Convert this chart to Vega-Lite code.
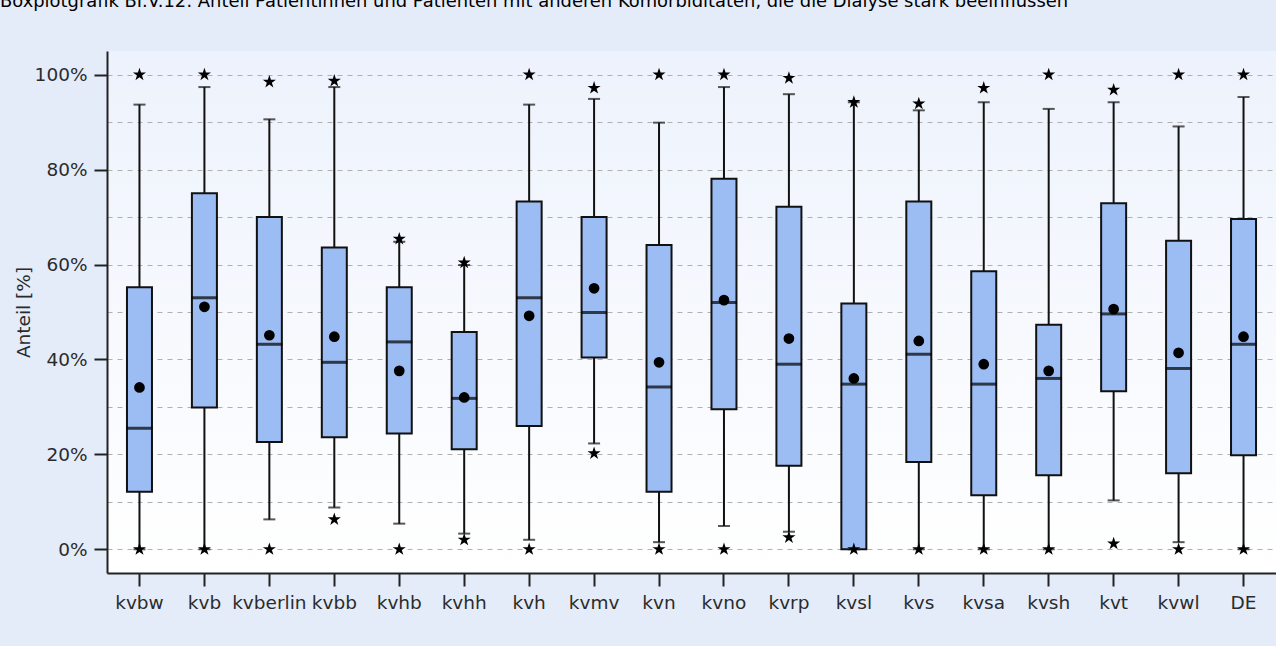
{
  "$schema": "https://vega.github.io/schema/vega-lite/v6.json",
  "autosize": {"type": "none"},
  "width": 1169,
  "height": 522,
  "padding": {"left": 107, "top": 51, "right": 0, "bottom": 73},
  "background": "#e4ecfa",
  "title": {
    "text": "Boxplotgrafik BI.V.12: Anteil Patientinnen und Patienten mit anderen Komorbiditäten, die die Dialyse stark beeinflussen",
    "anchor": "start",
    "frame": "group",
    "dx": -107,
    "offset": 26,
    "baseline": "alphabetic",
    "font": "DejaVu Sans",
    "fontSize": 17.9,
    "fontWeight": "normal",
    "color": "#000000"
  },
  "data": {
    "values": [
      {"kv": "kvbw", "lo": 0, "q1": 12.1, "med": 25.5, "q3": 55.2, "hi": 93.7, "mean": 34.1, "min": 0, "max": 100},
      {"kv": "kvb", "lo": 0, "q1": 29.9, "med": 53.0, "q3": 75.0, "hi": 97.4, "mean": 51.1, "min": 0, "max": 100},
      {"kv": "kvberlin", "lo": 6.3, "q1": 22.6, "med": 43.2, "q3": 70.0, "hi": 90.6, "mean": 45.1, "min": 0, "max": 98.5},
      {"kv": "kvbb", "lo": 8.8, "q1": 23.6, "med": 39.4, "q3": 63.6, "hi": 97.4, "mean": 44.8, "min": 6.3, "max": 98.7},
      {"kv": "kvhb", "lo": 5.4, "q1": 24.4, "med": 43.7, "q3": 55.2, "hi": 64.8, "mean": 37.6, "min": 0, "max": 65.4},
      {"kv": "kvhh", "lo": 3.3, "q1": 21.1, "med": 31.8, "q3": 45.8, "hi": 59.9, "mean": 32.0, "min": 2.0, "max": 60.4},
      {"kv": "kvh", "lo": 2.0, "q1": 26.0, "med": 53.0, "q3": 73.3, "hi": 93.7, "mean": 49.2, "min": 0, "max": 100},
      {"kv": "kvmv", "lo": 22.3, "q1": 40.4, "med": 49.9, "q3": 70.0, "hi": 94.9, "mean": 55.0, "min": 20.2, "max": 97.2},
      {"kv": "kvn", "lo": 1.5, "q1": 12.1, "med": 34.2, "q3": 64.1, "hi": 89.9, "mean": 39.4, "min": 0, "max": 100},
      {"kv": "kvno", "lo": 4.9, "q1": 29.5, "med": 52.0, "q3": 78.1, "hi": 97.4, "mean": 52.5, "min": 0, "max": 100},
      {"kv": "kvrp", "lo": 3.7, "q1": 17.6, "med": 39.0, "q3": 72.2, "hi": 95.9, "mean": 44.4, "min": 2.5, "max": 99.3},
      {"kv": "kvsl", "lo": 0, "q1": 0, "med": 34.8, "q3": 51.8, "hi": 94.2, "mean": 36.0, "min": 0, "max": 94.2},
      {"kv": "kvs", "lo": 0, "q1": 18.4, "med": 41.1, "q3": 73.3, "hi": 92.5, "mean": 43.9, "min": 0, "max": 93.9},
      {"kv": "kvsa", "lo": 0, "q1": 11.4, "med": 34.8, "q3": 58.6, "hi": 94.2, "mean": 39.0, "min": 0, "max": 97.2},
      {"kv": "kvsh", "lo": 0, "q1": 15.6, "med": 36.0, "q3": 47.3, "hi": 92.8, "mean": 37.6, "min": 0, "max": 100},
      {"kv": "kvt", "lo": 10.3, "q1": 33.3, "med": 49.6, "q3": 72.9, "hi": 94.2, "mean": 50.6, "min": 1.2, "max": 96.8},
      {"kv": "kvwl", "lo": 1.5, "q1": 16.0, "med": 38.1, "q3": 65.0, "hi": 89.1, "mean": 41.4, "min": 0, "max": 100},
      {"kv": "DE", "lo": 0, "q1": 19.8, "med": 43.2, "q3": 69.6, "hi": 95.3, "mean": 44.8, "min": 0, "max": 100}
    ]
  },
  "encoding": {
    "x": {
      "field": "kv",
      "type": "nominal",
      "sort": null,
      "title": null,
      "scale": {"paddingInner": 0, "paddingOuter": 0},
      "axis": {
        "labelAngle": 0,
        "grid": false,
        "bandPosition": 0.5,
        "tickSize": 13,
        "tickWidth": 2,
        "labelPadding": 7
      }
    }
  },
  "layer": [
    {
      "mark": {"type": "rule", "color": "#111111", "strokeWidth": 2},
      "encoding": {
        "y": {
          "field": "lo",
          "type": "quantitative",
          "title": "Anteil [%]",
          "scale": {"domain": [-5, 105], "nice": false, "zero": false},
          "axis": {
            "values": [0, 5, 10, 15, 20, 25, 30, 35, 40, 45, 50, 55, 60, 65, 70, 75, 80, 85, 90, 95, 100, 105],
            "labelExpr": "datum.value % 20 == 0 && datum.value <= 100 ? datum.value + '%' : ''",
            "tickOpacity": {"condition": {"test": "datum.value % 20 == 0 && datum.value <= 100", "value": 1}, "value": 0},
            "tickSize": 13,
            "tickWidth": 2,
            "labelPadding": 7,
            "titlePadding": 1,
            "grid": true
          }
        },
        "y2": {"field": "hi"}
      }
    },
    {
      "mark": {"type": "tick", "color": "#111111", "size": 12, "thickness": 2},
      "encoding": {"y": {"field": "lo", "type": "quantitative"}}
    },
    {
      "mark": {"type": "tick", "color": "#111111", "size": 12, "thickness": 2},
      "encoding": {"y": {"field": "hi", "type": "quantitative"}}
    },
    {
      "mark": {"type": "bar", "size": 25, "fill": "#9cbcf4", "stroke": "#111111", "strokeWidth": 2},
      "encoding": {
        "y": {"field": "q1", "type": "quantitative"},
        "y2": {"field": "q3"}
      }
    },
    {
      "mark": {"type": "tick", "color": "#000000", "size": 26, "thickness": 3},
      "encoding": {"y": {"field": "med", "type": "quantitative"}}
    },
    {
      "mark": {"type": "point", "shape": "circle", "filled": true, "color": "#000000", "opacity": 1, "size": 115},
      "encoding": {"y": {"field": "mean", "type": "quantitative"}}
    },
    {
      "mark": {"type": "point", "shape": "M0,-1L0.2245,-0.309L0.951,-0.309L0.363,0.118L0.588,0.809L0,0.382L-0.588,0.809L-0.363,0.118L-0.951,-0.309L-0.2245,-0.309Z", "filled": true, "color": "#000000", "opacity": 1, "size": 190},
      "encoding": {"y": {"field": "min", "type": "quantitative"}}
    },
    {
      "mark": {"type": "point", "shape": "M0,-1L0.2245,-0.309L0.951,-0.309L0.363,0.118L0.588,0.809L0,0.382L-0.588,0.809L-0.363,0.118L-0.951,-0.309L-0.2245,-0.309Z", "filled": true, "color": "#000000", "opacity": 1, "size": 190},
      "encoding": {"y": {"field": "max", "type": "quantitative"}}
    }
  ],
  "config": {
    "view": {
      "stroke": null,
      "fill": {
        "gradient": "linear",
        "x1": 0, "y1": 0, "x2": 0, "y2": 1,
        "stops": [
          {"offset": 0, "color": "#edf2fc"},
          {"offset": 1, "color": "#ffffff"}
        ]
      }
    },
    "axis": {
      "labelFont": "DejaVu Sans",
      "labelFontSize": 18.5,
      "labelColor": "#2b2b2b",
      "titleFont": "DejaVu Sans",
      "titleFontSize": 18.5,
      "titleFontWeight": "normal",
      "titleColor": "#2b2b2b",
      "domainColor": "#222222",
      "domainWidth": 2,
      "tickColor": "#222222",
      "gridColor": "#b0b0b0",
      "gridDash": [5, 5],
      "gridWidth": 1
    }
  }
}
